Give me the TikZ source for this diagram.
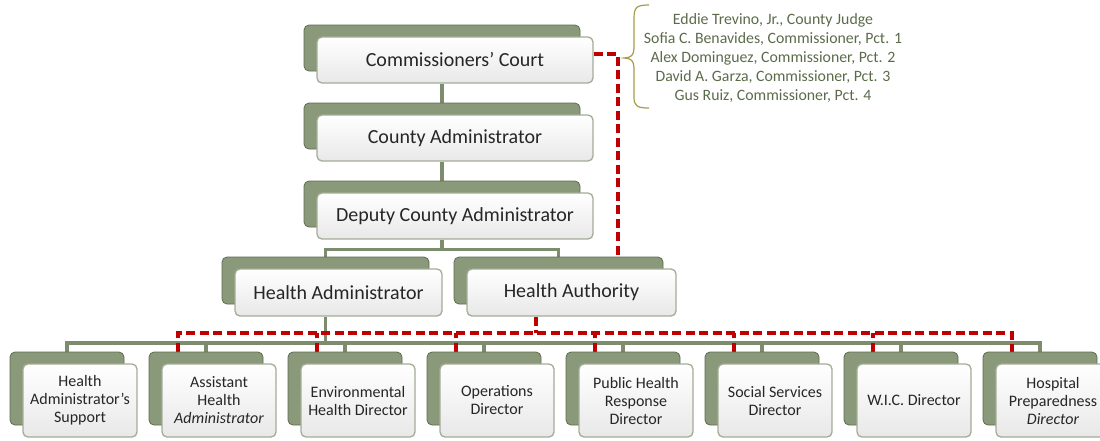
\documentclass[tikz,border=0pt]{standalone}
\usepackage{fontspec}
\setmainfont{Carlito}
\usetikzlibrary{backgrounds}
\definecolor{backg}{HTML}{8A997A}
\definecolor{backd}{HTML}{5E6B50}
\definecolor{frontd}{HTML}{A3AD96}
\definecolor{conn}{HTML}{7E8C6E}
\definecolor{redd}{HTML}{C00000}
\definecolor{txt}{HTML}{262626}
\definecolor{memb}{HTML}{5B6B4A}
\definecolor{bracec}{HTML}{A89B4C}
\tikzset{
  backbox/.style={draw=backd, fill=backg, rounded corners=5pt, line width=0.8pt, inner sep=0pt},
  frontbox/.style={draw=frontd, top color=white, bottom color=black!9, rounded corners=5pt, line width=1.3pt, align=center, text=txt, inner sep=0pt},
  link/.style={draw=conn, line width=3.5pt},
  dlink/.style={draw=redd, line width=3.5pt, dash pattern=on 9pt off 4.5pt},
  members/.style={align=center, text=memb, font=\fontsize{15.8}{19}\selectfont},
  bigtxt/.style={font=\fontsize{20}{24}\selectfont},
  smalltxt/.style={font=\fontsize{16}{18}\selectfont},
}
% name, front cx, front cy, width, height, style, text
\newcommand{\orgbox}[7]{%
  \node[backbox, minimum width=#4pt, minimum height=#5pt] (#1b) at (#2-13,#3-12) {};
  \node[frontbox, #6, minimum width=#4pt, minimum height=#5pt] (#1) at (#2,#3) {#7};
}
\begin{document}
\begin{tikzpicture}[x=1pt,y=-1pt]
\useasboundingbox (0,0) rectangle (1100,440);
% top chain
\orgbox{cc}{455}{60}{276}{46}{bigtxt}{Commissioners’ Court}
\orgbox{ca}{455}{138}{276}{46}{bigtxt}{County Administrator}
\orgbox{dca}{455}{216}{276}{46}{bigtxt}{Deputy County Administrator}
% middle row
\orgbox{ha}{338.5}{292.5}{207}{47}{bigtxt}{Health Administrator}
\orgbox{hau}{571.5}{292.5}{209}{47}{bigtxt}{Health Authority}
% bottom row
\orgbox{b1}{80}{400.5}{114}{73}{smalltxt}{Health\\Administrator’s\\Support}
\orgbox{b2}{219}{400.5}{114}{73}{smalltxt}{Assistant\\Health\\\itshape Administrator}
\orgbox{b3}{358}{400.5}{114}{73}{smalltxt}{Environmental\\Health Director}
\orgbox{b4}{497}{400.5}{114}{73}{smalltxt}{Operations\\Director}
\orgbox{b5}{636}{400.5}{114}{73}{smalltxt}{Public Health\\Response\\Director}
\orgbox{b6}{775}{400.5}{114}{73}{smalltxt}{Social Services\\Director}
\orgbox{b7}{914}{400.5}{114}{73}{smalltxt}{W.I.C. Director}
\orgbox{b8}{1053}{400.5}{114}{73}{smalltxt}{Hospital\\Preparedness\\\itshape Director}
% members
\node[members] (mem) at (773,58) {Eddie Trevino, Jr., County Judge\\Sofia C. Benavides, Commissioner, Pct. 1\\Alex Dominguez, Commissioner, Pct. 2\\David A. Garza, Commissioner, Pct. 3\\Gus Ruiz, Commissioner, Pct. 4};
\draw[bracec, line width=1.2pt] (649,5) .. controls (637,5) and (634,7) .. (634,18) -- (634,48) .. controls (634,55) and (631,58) .. (624,58) .. controls (631,58) and (634,61) .. (634,68) -- (634,97) .. controls (634,106) and (637,108) .. (649,108);
% connectors
\coordinate (bus) at (0,343);
\coordinate (rbus) at (0,333);
\coordinate (rtop) at (618,54);
\coordinate (rha) at (536,0);
\begin{scope}[on background layer]
\draw[link] (cc.south -| ccb.south) -- (cab.north);
\draw[link] (ca.south -| cab.south) -- (dcab.north);
\draw[link] (dca.south -| dcab.south) -- ++(0,10) -| (hab.north);
\draw[link] (dca.south -| dcab.south) ++(0,10) -| (haub.north);
\draw[link] (ha.south -| hab.south) -- (hab.south |- bus);
\draw[link] (b1b.north) -- (b1b.north |- bus) -- (b8b.north |- bus) -- (b8b.north);
\foreach \i in {2,...,7} {\draw[link] (b\i b.north) -- (b\i b.north |- bus);}
\draw[dlink] ([yshift=6pt]cc.east) -- (rtop) -- (rtop |- haub.north);
\draw[dlink] (hau.south -| rha) -- (rha |- rbus);
\draw[dlink] ([xshift=-28pt]b2b.north) -- ([xshift=-28pt]b2b.north |- rbus) -- ([xshift=-28pt]b8b.north |- rbus) -- ([xshift=-28pt]b8b.north);
\foreach \i in {3,...,7} {\draw[dlink] ([xshift=-28pt]b\i b.north) -- ([xshift=-28pt]b\i b.north |- rbus);}
\end{scope}
\end{tikzpicture}
\end{document}
